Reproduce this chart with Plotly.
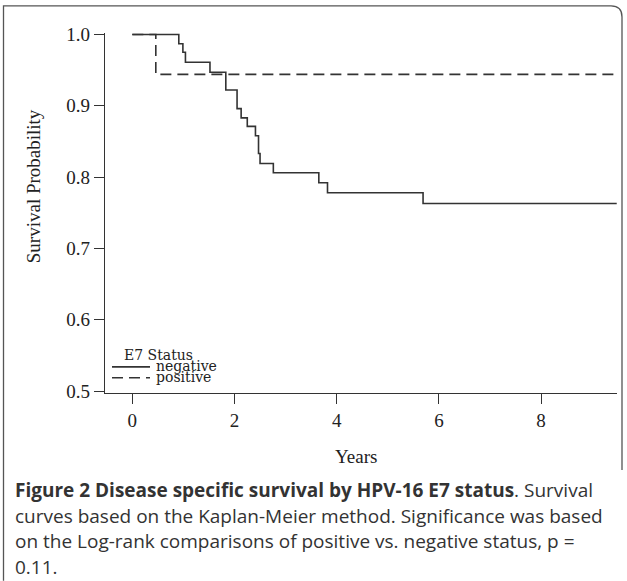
import plotly.graph_objects as go

# ---- data ----
neg_time = [0, 0.91, 0.99, 1.04, 1.52, 1.83, 2.05, 2.13, 2.25, 2.41, 2.47, 2.50, 2.76, 3.65, 3.82, 5.69, 9.48]
neg_surv = [1.0, 0.987, 0.975, 0.961, 0.947, 0.922, 0.896, 0.883, 0.871, 0.858, 0.833, 0.819, 0.806, 0.792, 0.778, 0.763, 0.763]
pos_time = [0, 0.46, 9.48]
pos_surv = [1.0, 0.944, 0.944]
x_ticks = [0, 2, 4, 6, 8]
y_ticks = [0.5, 0.6, 0.7, 0.8, 0.9, 1.0]
legend_title = "E7 Status"
series_names = ["negative", "positive"]
caption_lines = [
    "<b>Figure 2 Disease specific survival by HPV-16 E7 status</b>. Survival",
    "curves based on the Kaplan-Meier method. Significance was based",
    "on the Log-rank comparisons of positive vs. negative status, p =",
    "0.11.",
]

W, H = 627, 581
L, R, T, B = 105, 617, 32.6, 393  # plot area in pixels

def px(x):
    return (x - L) / (R - L)

def py(y):
    return (B - y) / (B - T)

serif = "Liberation Serif"
leg_font = "DejaVu Serif"
ink = "#333333"
dashes = [None, "11px,6px"]

fig = go.Figure()
fig.add_trace(go.Scatter(x=neg_time, y=neg_surv, mode="lines", name=series_names[0],
                         line=dict(shape="hv", color=ink, width=1.6)))
fig.add_trace(go.Scatter(x=pos_time, y=pos_surv, mode="lines", name=series_names[1],
                         line=dict(shape="hv", color=ink, width=1.6, dash=dashes[1])))

fig.update_layout(
    width=W, height=H,
    margin=dict(l=L, r=W - R, t=T, b=H - B, pad=0),
    plot_bgcolor="white", paper_bgcolor="white",
    font=dict(family=serif, size=19, color="#222222"),
    showlegend=False,
    xaxis=dict(range=[(L - 132.3) / 51.1, (R - 132.3) / 51.1], tickvals=x_ticks,
               showgrid=False, zeroline=False, showline=True, linecolor=ink, linewidth=1.3,
               ticks="outside", ticklen=10, tickcolor=ink, tickwidth=1.3,
               tickfont=dict(family=serif, size=19)),
    yaxis=dict(range=[0.4972, 1.002], tickvals=y_ticks, tickformat=".1f",
               showgrid=False, zeroline=False, showline=True, linecolor=ink, linewidth=1.3,
               ticks="outside", ticklen=10, tickcolor=ink, tickwidth=1.3,
               tickfont=dict(family=serif, size=19)),
)

anns = [
    dict(text="Years", x=px(356), y=py(457), xref="paper", yref="paper",
         showarrow=False, font=dict(family=serif, size=19), xanchor="center", yanchor="middle"),
    dict(text="Survival Probability", x=px(33), y=py(186), xref="paper", yref="paper",
         showarrow=False, textangle=-90, font=dict(family=serif, size=19),
         xanchor="center", yanchor="middle"),
    dict(text=legend_title, x=px(122), y=py(354.5), xref="paper", yref="paper",
         showarrow=False, xanchor="left", yanchor="middle",
         font=dict(family=leg_font, size=14, color="#222222")),
]
# manual legend (sample lines + labels)
leg_y = [366.8, 377.8]
for name, yy, d in zip(series_names, leg_y, dashes):
    anns.append(dict(text=name, x=px(154), y=py(yy - 0.5), xref="paper", yref="paper",
                     showarrow=False, xanchor="left", yanchor="middle",
                     font=dict(family=leg_font, size=14, color="#222222")))
    fig.add_shape(type="line", xref="paper", yref="paper", x0=px(112), x1=px(150),
                  y0=py(yy), y1=py(yy), line=dict(color=ink, width=1.6, dash=d or "solid"))

line_y = [490, 516, 541.5, 567]
for t, yy in zip(caption_lines, line_y):
    anns.append(dict(text=t, x=px(13), y=py(yy), xref="paper", yref="paper",
                     showarrow=False, xanchor="left", yanchor="middle", align="left",
                     font=dict(family="Open Sans", size=19, color="#333333")))
fig.update_layout(annotations=anns)

# outer frame with rounded top-right corner
path = (f"M {px(3.5)} {py(581)} L {px(3.5)} {py(5.5)} L {px(611)} {py(5.5)} "
        f"Q {px(622)} {py(5.5)} {px(622)} {py(16.5)} L {px(622)} {py(470)}")
fig.add_shape(type="path", path=path, xref="paper", yref="paper",
              line=dict(color="#555555", width=1.3))

fig.write_html("out.html", config={"displayModeBar": False},
               post_script="document.body.style.margin='0px';document.body.style.overflow='hidden';")
